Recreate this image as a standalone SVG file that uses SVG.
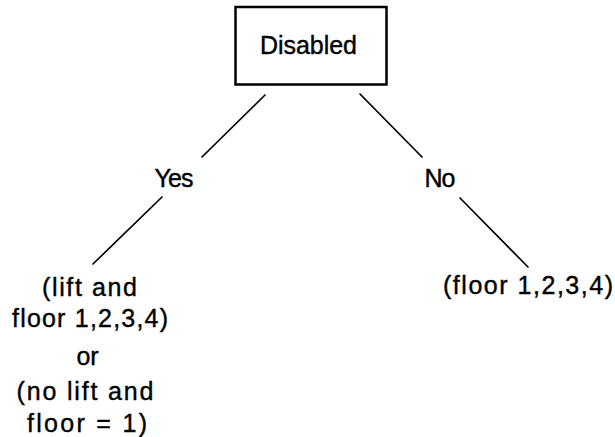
<svg xmlns="http://www.w3.org/2000/svg" width="615" height="437" viewBox="0 0 615 437">
  <style>
    .lbl { font-family: "Liberation Sans", "DejaVu Sans", sans-serif; font-size: 25px; fill: #000; text-anchor: middle; stroke: #000; stroke-width: 0.4; }
    .box { fill: #fff; stroke: #000; stroke-width: 2.5; }
    .edge { stroke: #000; stroke-width: 1.7; fill: none; stroke-linecap: round; }
  </style>
  <rect width="615" height="437" fill="#fff"/>

  <!-- branches of the decision tree -->
  <g id="connectors">
    <line class="edge" x1="265" y1="95" x2="202" y2="157"/>
    <line class="edge" x1="360" y1="94" x2="422" y2="157"/>
    <line class="edge" x1="162" y1="197" x2="93" y2="264"/>
    <line class="edge" x1="460" y1="198" x2="528" y2="267"/>
  </g>

  <g id="root-disabled">
    <rect class="box" x="235.5" y="7" width="151" height="77.5"/>
    <text class="lbl" x="308.5" y="54" textLength="97">Disabled</text>
  </g>

  <g id="branch-yes">
    <text class="lbl" x="174" y="187" textLength="39">Yes</text>
  </g>

  <g id="branch-no">
    <text class="lbl" x="440" y="187" textLength="31">No</text>
  </g>

  <g id="leaf-yes">
    <text class="lbl" x="89.5" y="296" textLength="95">(lift and</text>
    <text class="lbl" x="90" y="327" textLength="156">floor 1,2,3,4)</text>
    <text class="lbl" x="87.5" y="365" textLength="22">or</text>
    <text class="lbl" x="85" y="400" textLength="137">(no lift and</text>
    <text class="lbl" x="87" y="432" textLength="120">floor = 1)</text>
  </g>

  <g id="leaf-no">
    <text class="lbl" x="528" y="294" textLength="170">(floor 1,2,3,4)</text>
  </g>
</svg>
